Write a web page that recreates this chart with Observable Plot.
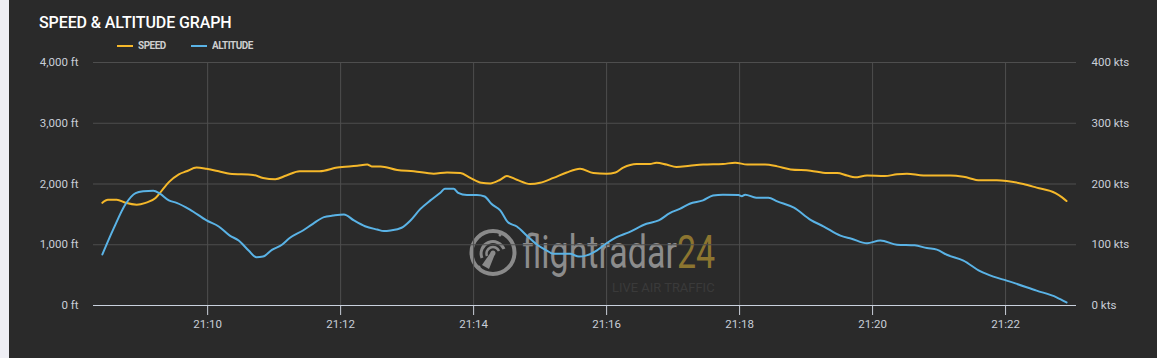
<!DOCTYPE html>
<html>
<head>
<meta charset="utf-8">
<script src="https://cdn.jsdelivr.net/npm/d3@7"></script>
<script src="https://cdn.jsdelivr.net/npm/@observablehq/plot@0.6"></script>
<style>
  html, body { margin: 0; padding: 0; background: #eeeef4; }
  #wrap { position: relative; width: 1157px; height: 358px; overflow: hidden; }
  #panel { position: absolute; left: 9px; top: 0; width: 1148px; height: 358px; background: #2a2a2a; }
  #title { position: absolute; left: 39px; top: 13px; font-family: Roboto, sans-serif; font-weight: 500; font-size: 16px; color: #ffffff; letter-spacing: -0.1px; }
  #legend { position: absolute; left: 117px; top: 39px; font-family: Roboto, sans-serif; font-weight: 700; font-size: 11px; color: #cfcfcf; display: flex; align-items: center; }
  .item { display: flex; align-items: center; margin-right: 22px; }
  .swatch { width: 16px; height: 2px; margin-right: 5px; }
  .lab { display: inline-block; letter-spacing: -0.5px; transform: scaleX(0.9); transform-origin: left center; }
  #wm { position: absolute; left: 0; top: 0; }
  #chart { position: absolute; left: 0; top: 52px; }
</style>
</head>
<body>
<div id="wrap">
  <div id="panel"></div>
  <svg id="wm" width="1157" height="358">
    <g fill="none" stroke="#8a8a8a">
      <circle cx="493" cy="252.5" r="21.5" stroke-width="4"/>
      <path d="M 482 258 A 11.5 11.5 0 1 1 504 249" stroke-width="3"/>
      <path d="M 487 256 A 6 6 0 1 1 499 251" stroke-width="2.5"/>
    </g>
    <g fill="#8a8a8a">
      <circle cx="493" cy="253" r="2.5"/>
      <path d="M 491 252 L 495 254 L 489 269 L 482 265 Z"/>
      <circle cx="500" cy="235" r="1.5"/>
      <circle cx="479" cy="267" r="1.5"/>
    </g>
    <text transform="translate(522,268) scale(1,1.35)" font-family="Roboto, sans-serif" font-size="34" fill="#8c8c8c">flightradar<tspan fill="#8c7530">24</tspan></text>
    <text transform="translate(612,292) scale(1.08,1)" font-family="Roboto, sans-serif" font-size="12" fill="#3a3a3a">LIVE AIR TRAFFIC</text>
  </svg>
  <div id="title">SPEED &amp; ALTITUDE GRAPH</div>
  <div id="legend">
    <div class="item"><div class="swatch" style="background:#f5b82a"></div><span class="lab">SPEED</span></div>
    <div class="item"><div class="swatch" style="background:#5ab3e6"></div><span class="lab">ALTITUDE</span></div>
  </div>
  <div id="chart"></div>
</div>
<script>
// ---- data ----
const seriesNames = ["SPEED", "ALTITUDE"];
const seriesColors = ["#f5b82a", "#5ab3e6"];

const altTimes = ["21:08:25","21:08:35","21:08:46","21:08:55","21:09:02","21:09:11","21:09:17","21:09:25","21:09:32","21:09:44",
  "21:09:59","21:10:10","21:10:20","21:10:28","21:10:37","21:10:44","21:10:50","21:10:58","21:11:07","21:11:14",
  "21:11:26","21:11:35","21:11:45","21:11:53","21:12:03","21:12:12","21:12:22","21:12:33","21:12:39","21:12:45",
  "21:12:55","21:13:03","21:13:12","21:13:21","21:13:30","21:13:34","21:13:42","21:13:46","21:13:54","21:14:03",
  "21:14:10","21:14:16","21:14:24","21:14:31","21:14:39","21:14:48","21:14:57","21:15:06","21:15:12","21:15:27",
  "21:15:35","21:15:42","21:15:51","21:16:00","21:16:09","21:16:20","21:16:36","21:16:47","21:16:57","21:17:06",
  "21:17:15","21:17:27","21:17:36","21:17:45","21:17:59","21:18:02","21:18:05","21:18:15","21:18:26","21:18:34",
  "21:18:49","21:19:04","21:19:16","21:19:31","21:19:41","21:19:55","21:20:07","21:20:22","21:20:38","21:20:49",
  "21:20:58","21:21:07","21:21:22","21:21:37","21:21:49","21:22:01","21:22:28","21:22:46","21:22:55"];
const altFeet = [840,1260,1670,1850,1880,1890,1840,1730,1690,1580,
  1400,1300,1150,1070,905,795,805,915,1000,1110,
  1235,1345,1455,1480,1500,1400,1305,1250,1225,1235,
  1280,1400,1590,1730,1855,1920,1920,1855,1820,1820,
  1795,1675,1565,1370,1300,1150,1005,905,850,850,
  805,825,905,1025,1125,1205,1345,1400,1520,1590,
  1675,1730,1810,1825,1820,1800,1825,1775,1775,1715,
  1610,1410,1300,1150,1100,1025,1070,1000,990,945,
  920,835,740,565,475,410,245,135,50];

const spdTimes = ["21:08:25","21:08:30","21:08:38","21:08:46","21:08:56","21:09:04","21:09:13","21:09:19","21:09:25","21:09:34",
  "21:09:41","21:09:50","21:09:59","21:10:10","21:10:20","21:10:41","21:10:50","21:11:01","21:11:11","21:11:23",
  "21:11:41","21:11:57","21:12:15","21:12:24","21:12:28","21:12:36","21:12:51","21:13:06","21:13:24","21:13:36",
  "21:13:48","21:13:57","21:14:07","21:14:15","21:14:24","21:14:30","21:14:39","21:14:51","21:15:00","21:15:12",
  "21:15:24","21:15:36","21:15:48","21:16:00","21:16:08","21:16:15","21:16:27","21:16:39","21:16:45","21:16:54",
  "21:17:03","21:17:15","21:17:27","21:17:45","21:17:56","21:18:07","21:18:23","21:18:34","21:18:46","21:19:04",
  "21:19:19","21:19:28","21:19:37","21:19:44","21:19:55","21:20:11","21:20:22","21:20:31","21:20:46","21:20:58",
  "21:21:10","21:21:22","21:21:37","21:21:52","21:22:01","21:22:16","21:22:28","21:22:45","21:22:51","21:22:55"];
const spdKnots = [169,174,174,169,166,169,177,190,203,216,
  221,227,225,221,217,215,210,208,214,221,
  221,227,230,232,229,229,223,221,217,219,
  218,210,202,201,207,213,207,200,202,210,
  219,225,218,217,219,227,233,233,235,232,
  228,230,232,233,235,232,232,229,224,222,
  218,218,214,211,214,213,216,217,214,214,
  214,212,206,206,205,200,194,185,178,172];

const xStart = "21:08:17", xEnd = "21:23:04";
const xTickLabels = ["21:10","21:12","21:14","21:16","21:18","21:20","21:22"];
const altTicks = [0, 1000, 2000, 3000, 4000];
const spdTicks = [0, 100, 200, 300, 400];

// ---- build ----
const toDate = t => new Date(`2024-01-01T${t.length === 5 ? t + ":00" : t}Z`);
const altData = altTimes.map((t, i) => ({time: toDate(t), ft: altFeet[i]}));
const spdData = spdTimes.map((t, i) => ({time: toDate(t), kts: spdKnots[i]}));
const ktsToFt = 4000 / 400; // right axis shares the frame: 400 kts at top

const axisColor = "#c9ced8";
const gridColor = "#4e4e4e";

const chart = Plot.plot({
  width: 1157,
  height: 306,
  marginLeft: 93,
  marginRight: 81,
  marginTop: 10,
  marginBottom: 53,
  style: {background: "transparent", fontFamily: "Roboto, sans-serif", fontSize: "11.5px", color: axisColor, overflow: "visible"},
  x: {type: "utc", domain: [toDate(xStart), toDate(xEnd)]},
  y: {domain: [0, 4000]},
  marks: [
    Plot.gridX({ticks: xTickLabels.map(toDate), stroke: gridColor, strokeOpacity: 1}),
    Plot.gridY({ticks: altTicks, stroke: gridColor, strokeOpacity: 1}),
    Plot.axisX({ticks: xTickLabels.map(toDate), tickFormat: d3.utcFormat("%H:%M"), tickSize: 10, tickPadding: 4, color: axisColor, label: null}),
    Plot.axisY({ticks: altTicks, tickFormat: d => d3.format(",")(d) + " ft", tickSize: 0, tickPadding: 15, color: axisColor, label: null}),
    Plot.axisY({anchor: "right", ticks: spdTicks.map(k => k * ktsToFt), tickFormat: d => (d / ktsToFt) + " kts", tickSize: 0, tickPadding: 15, color: axisColor, label: null}),
    Plot.ruleY([0], {stroke: "#c9d1dd", strokeWidth: 1.2}),
    Plot.line(spdData, {x: "time", y: d => d.kts * ktsToFt, stroke: seriesColors[0], strokeWidth: 2, curve: "monotone-x"}),
    Plot.line(altData, {x: "time", y: "ft", stroke: seriesColors[1], strokeWidth: 2, curve: "monotone-x"})
  ]
});
document.getElementById("chart").appendChild(chart);
</script>
</body>
</html>
